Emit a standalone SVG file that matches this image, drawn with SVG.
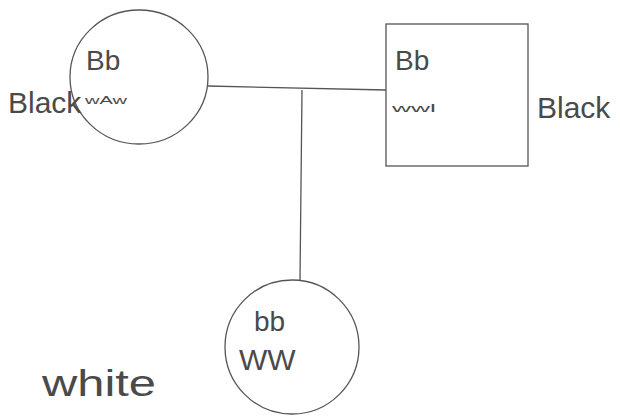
<svg xmlns="http://www.w3.org/2000/svg" width="620" height="419" viewBox="0 0 620 419">
  <style>
    .shape { fill: none; stroke: #555; stroke-width: 1.3; }
    .line { fill: none; stroke: #555; stroke-width: 1.3; }
    .t { font-family: "Liberation Sans", "DejaVu Sans", sans-serif; fill: #4a4a4a; }
  </style>
  <rect width="620" height="419" fill="#fff"/>

  <g id="connectors">
    <path class="line" d="M208 86 L386 90"/>
    <path class="line" d="M302 90 L300 280"/>
  </g>

  <g id="mother">
    <ellipse class="shape" cx="139" cy="77" rx="69" ry="67"/>
    <text class="t" x="86" y="70" font-size="28">Bb</text>
    <text class="t" x="85" y="104" font-size="11" textLength="42" lengthAdjust="spacingAndGlyphs">wAw</text>
    <text class="t" x="8" y="113" font-size="30">Black</text>
  </g>

  <g id="father">
    <rect class="shape" x="386" y="24" width="142" height="142"/>
    <text class="t" x="395" y="70" font-size="28">Bb</text>
    <text class="t" x="392" y="112" font-size="11" textLength="44" lengthAdjust="spacingAndGlyphs">wwl</text>
    <text class="t" x="537" y="118" font-size="30">Black</text>
  </g>

  <g id="child">
    <ellipse class="shape" cx="292" cy="347" rx="67" ry="67"/>
    <text class="t" x="254" y="331" font-size="28">bb</text>
    <text class="t" x="239" y="370" font-size="30">WW</text>
    <text class="t" x="42" y="396" font-size="36" textLength="114" lengthAdjust="spacingAndGlyphs">white</text>
  </g>
</svg>
